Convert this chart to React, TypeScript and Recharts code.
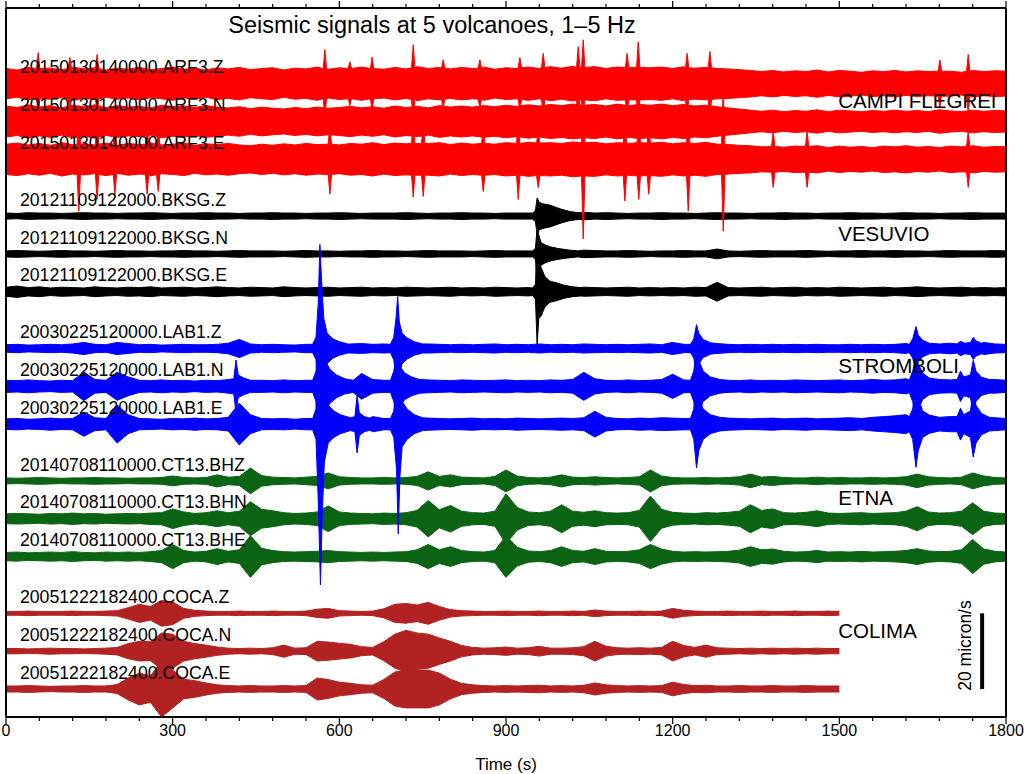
import React from "react";
import { ComposedChart, Area, XAxis, YAxis, Scatter, ReferenceLine } from "recharts";

type Pt = [number, number];

// envelopes are read every 20 s; amplitudes in micron/s (half peak-to-peak)
const TIME_S = Array.from({ length: 91 }, (_, i) => i * 20);
const X_TICKS = [
  0, 60, 120, 180, 240, 300, 360, 420, 480, 540, 600, 660, 720, 780, 840, 900,
  960, 1020, 1080, 1140, 1200, 1260, 1320, 1380, 1440, 1500, 1560, 1620, 1680, 1740, 1800,
];
const Y_TICKS = [0, 10, 20, 30, 40, 50, 60, 70, 80, 90, 100, 110, 120, 130, 140, 150, 160, 170, 180];

// ---- Campi Flegrei ----
const ARF3_Z = [
  4.0, 3.6, 4.3, 3.8, 4.1, 3.7, 4.4, 3.9, 4.2, 3.6,
  4.1, 3.8, 4.3, 3.7, 4.0, 4.4, 3.8, 4.1, 3.6, 4.2,
  3.9, 4.3, 3.7, 4.0, 4.2, 3.6, 4.1, 3.9, 4.4, 3.8,
  4.2, 3.7, 4.4, 4.0, 3.8, 4.3, 3.9, 4.5, 4.0, 4.3,
  3.9, 4.3, 4.0, 4.4, 3.8, 4.2, 4.0, 4.4, 4.0, 4.5,
  4.1, 4.6, 4.2, 4.5, 4.0, 4.4, 4.1, 4.6, 4.2, 4.4,
  4.0, 4.5, 4.1, 4.3, 4.0, 3.9, 3.7, 3.5, 3.2, 3.5,
  3.1, 3.4, 3.2, 3.6, 3.1, 3.5, 3.3, 3.0, 3.4, 3.2,
  3.5, 3.1, 3.4, 3.2, 3.6, 3.3, 3.0, 3.5, 3.2, 3.4, 3.3,
];
const ARF3_N = [
  4.1, 3.7, 4.4, 3.8, 4.2, 3.6, 4.3, 3.9, 4.4, 3.7,
  4.2, 3.8, 4.0, 3.6, 4.3, 3.9, 4.1, 3.7, 4.2, 3.8,
  3.6, 3.9, 3.4, 3.8, 3.5, 3.3, 3.7, 3.4, 3.8, 3.5,
  3.7, 4.0, 3.6, 3.9, 3.5, 4.1, 3.7, 4.0, 3.6, 4.2,
  3.8, 4.1, 3.8, 4.2, 3.9, 4.3, 4.0, 4.4, 4.1, 4.5,
  4.2, 4.6, 4.3, 4.5, 4.1, 4.6, 4.2, 4.5, 4.3, 4.6,
  4.2, 4.5, 4.1, 4.3, 3.9, 3.6, 3.3, 3.0, 2.7, 3.0,
  2.6, 2.9, 2.7, 3.1, 2.6, 3.0, 2.8, 2.6, 2.9, 2.7,
  3.0, 2.7, 2.9, 2.6, 3.1, 2.8, 2.6, 3.0, 2.7, 2.9, 2.8,
];
const ARF3_E = [
  4.0, 4.3, 3.8, 4.2, 3.7, 4.4, 3.9, 4.1, 3.8, 4.3,
  3.7, 4.2, 3.9, 4.4, 3.8, 4.0, 4.3, 3.7, 4.1, 3.9,
  4.2, 3.8, 3.6, 4.0, 3.7, 4.1, 3.8, 4.2, 3.9, 4.3,
  3.8, 4.2, 4.0, 4.4, 3.9, 4.3, 4.1, 4.5, 4.2, 4.4,
  3.9, 4.3, 4.0, 4.4, 4.0, 4.4, 4.1, 4.5, 4.1, 4.4,
  4.2, 4.6, 4.3, 4.5, 4.1, 4.4, 4.2, 4.6, 4.3, 4.5,
  4.1, 4.4, 4.2, 4.5, 4.0, 3.9, 3.7, 3.6, 3.3, 3.6,
  3.2, 3.5, 3.3, 3.6, 3.1, 3.5, 3.2, 3.4, 3.1, 3.5,
  3.3, 3.6, 3.2, 3.4, 3.1, 3.5, 3.3, 3.6, 3.2, 3.4, 3.3,
];
// single spikes: [time s, amplitude]
const ARF3_Z_PEAKS: Pt[][] = [
  [[55, 4], [58, 8.2], [61, 4]],
  [[112, 4], [115, 6.9], [118, 4]],
  [[161, 4], [164, 7.7], [167, 4]],
  [[571, 4], [574, 9], [577, 4]],
  [[616, 4], [619, 5.8], [622, 4]],
  [[656, 4], [659, 7], [662, 4]],
  [[730, 4.2], [733, 10.3], [736, 4.2]],
  [[784, 4.1], [787, 6.3], [790, 4.1]],
  [[850, 4.1], [853, 6.3], [856, 4.1]],
  [[922, 4.2], [925, 6.9], [928, 4.2]],
  [[964, 4.2], [967, 8], [970, 4.2]],
  [[1027, 4.3], [1030, 9.8], [1033, 4.3], [1036, 4.3], [1039, 11.6], [1042, 4.3]],
  [[1115, 4.3], [1118, 8], [1121, 4.3]],
  [[1135, 4.3], [1138, 11], [1141, 4.3]],
  [[1223, 4.2], [1226, 8], [1229, 4.2]],
  [[1264, 4.2], [1267, 8.5], [1270, 4.2]],
  [[1678, 3.3], [1681, 6.3], [1684, 3.3]],
  [[1729, 3.3], [1732, 7.7], [1735, 3.3]],
];
const ARF3_E_PEAKS: Pt[][] = [
  [[128, 4], [131, 13.7], [134, 4]],
  [[161, 4], [164, 10.6], [167, 4]],
  [[193, 4], [196, 9.2], [199, 4]],
  [[251, 4], [254, 9.2], [257, 4]],
  [[271, 4], [274, 8.5], [277, 4]],
  [[580, 4], [583, 9.2], [586, 4]],
  [[730, 4.2], [733, 10], [736, 4.2], [748, 4.2], [751, 9.8], [754, 4.2]],
  [[856, 4.2], [859, 8.5], [862, 4.2]],
  [[919, 4.2], [922, 10.6], [925, 4.2]],
  [[955, 4.3], [958, 7.5], [961, 4.3]],
  [[1036, 4.4], [1039, 21], [1042, 4.4]],
  [[1111, 4.3], [1114, 11], [1117, 4.3]],
  [[1136, 4.4], [1139, 10.6], [1142, 4.4], [1154, 4.3], [1157, 9.2], [1160, 4.3]],
  [[1225, 4.3], [1228, 13.7], [1231, 4.3]],
  [[1288, 4.0], [1291, 19], [1294, 4.0]],
  [[1378, 3.4], [1381, 7.4], [1384, 3.4]],
  [[1439, 3.4], [1442, 7.4], [1445, 3.4]],
  [[1729, 3.4], [1732, 7.4], [1735, 3.4]],
];

// ---- Vesuvio ----
const BKSG_Z = [
  0.8, 0.7, 0.9, 0.8, 0.8, 0.7, 0.8, 0.9, 0.8, 0.8,
  0.7, 0.8, 0.8, 0.9, 0.8, 0.7, 0.8, 0.8, 0.9, 0.8,
  0.8, 0.7, 0.8, 0.8, 0.9, 0.8, 0.8, 0.7, 0.8, 0.8,
  0.9, 0.8, 0.7, 0.8, 0.8, 0.8, 0.9, 0.8, 0.7, 0.8,
  0.8, 0.9, 0.8, 0.8, 0.7, 0.8, 0.8, 0.8, 0.8, 0.8,
  0.8, 0.8, 1.0, 0.8, 0.9, 0.8, 0.7, 0.8, 0.8, 0.9,
  0.8, 0.8, 0.7, 0.8, 0.9, 0.8, 0.8, 0.7, 0.8, 0.8,
  0.9, 0.8, 0.8, 0.7, 0.8, 0.8, 0.9, 0.8, 0.8, 0.7,
  0.8, 0.9, 0.8, 0.8, 0.7, 0.8, 0.8, 0.9, 0.8, 0.8, 0.8,
];
const BKSG_N = [
  0.8, 0.9, 0.8, 0.7, 0.8, 0.9, 0.8, 0.8, 0.7, 0.8,
  0.9, 0.8, 0.8, 0.7, 0.8, 0.8, 0.9, 0.8, 0.8, 0.7,
  0.8, 0.9, 0.8, 0.8, 0.8, 0.7, 0.8, 0.9, 0.8, 0.8,
  0.7, 0.8, 0.8, 0.9, 0.8, 0.8, 0.7, 0.8, 0.9, 0.8,
  0.8, 0.8, 0.7, 0.8, 0.9, 0.8, 0.8, 0.8, 0.8, 0.8,
  0.8, 0.8, 1.0, 0.9, 0.8, 0.8, 0.9, 0.8, 0.7, 0.8,
  0.8, 0.9, 0.8, 0.8, 1.3, 0.8, 0.7, 0.8, 0.9, 0.8,
  0.8, 0.8, 0.9, 0.8, 0.7, 0.8, 0.8, 0.9, 0.8, 0.8,
  0.9, 0.8, 0.8, 0.7, 0.8, 0.9, 0.8, 0.8, 0.8, 0.9, 0.8,
];
const BKSG_E = [
  1.2, 1.5, 1.1, 1.3, 1.0, 1.2, 1.1, 1.0, 1.3, 1.1,
  1.0, 1.2, 1.1, 1.3, 1.0, 1.1, 1.2, 1.0, 1.1, 1.3,
  1.1, 1.0, 1.2, 1.1, 1.0, 1.3, 1.1, 1.0, 1.1, 1.2,
  1.0, 1.1, 1.2, 1.0, 1.1, 1.0, 1.2, 1.1, 1.0, 1.1,
  1.2, 1.0, 1.1, 1.0, 1.2, 1.1, 1.0, 1.1, 1.1, 1.1,
  1.1, 1.1, 1.2, 1.1, 1.0, 1.1, 1.2, 1.0, 1.1, 1.0,
  1.1, 1.0, 1.2, 1.1, 2.5, 1.1, 1.0, 1.1, 1.2, 1.0,
  1.1, 1.2, 1.0, 1.1, 1.0, 1.2, 1.1, 1.0, 1.1, 1.2,
  1.0, 1.1, 1.3, 1.1, 1.0, 1.1, 1.2, 1.0, 1.1, 1.0, 1.1,
];
// local earthquake at ~955 s
const BKSG_Z_PEAKS: Pt[][] = [
  [[948, 0.8], [953, 1.5], [956, 4.8], [960, 3.6], [968, 3.2], [979, 2.9], [990, 2.3], [1000, 1.8], [1015, 1.2], [1030, 0.9]],
];
const BKSG_N_PEAKS: Pt[][] = [
  [[948, 0.8], [953, 1.5], [956, 6.9], [959, 5], [963, 3], [970, 2.4], [979, 1.9], [995, 1.4], [1015, 1.0], [1030, 0.8]],
];
const BKSG_E_PEAKS: Pt[][] = [
  [[948, 1.0], [953, 2], [956, 14], [959, 7], [963, 6.5], [970, 4], [979, 2.8], [990, 2.4], [1005, 1.7], [1020, 1.3], [1035, 1.1]],
];

// ---- Stromboli ----
const LAB1_Z = [
  1.0, 1.1, 0.9, 1.0, 1.1, 1.0, 1.2, 1.6, 1.1, 1.0,
  1.6, 1.3, 1.0, 1.1, 0.9, 1.0, 1.1, 1.0, 1.0, 1.1,
  1.4, 2.4, 1.2, 1.0, 1.1, 1.0, 0.9, 1.1, 1.1, 1.1,
  1.1, 1.2, 1.3, 1.1, 1.2, 1.1, 1.1, 1.1, 1.2, 1.1,
  1.0, 1.1, 1.0, 1.1, 1.2, 1.0, 1.1, 1.0, 1.2, 1.0,
  1.1, 1.0, 1.2, 1.1, 1.0, 1.1, 1.0, 1.1, 1.2, 1.0,
  1.6, 1.1, 1.1, 1.1, 1.3, 1.1, 1.0, 1.1, 1.0, 1.1,
  1.0, 1.1, 1.0, 1.1, 1.0, 1.0, 1.1, 1.0, 1.1, 1.0,
  1.1, 1.3, 1.1, 1.1, 1.2, 1.4, 1.2, 1.2, 1.6, 1.2, 1.1,
];
const LAB1_N = [
  1.6, 1.5, 1.7, 1.5, 1.4, 1.6, 1.5, 3.8, 1.8, 1.6,
  3.7, 2.5, 1.6, 1.5, 1.7, 1.5, 1.6, 1.4, 1.6, 1.5,
  1.8, 1.6, 2.5, 1.6, 1.5, 1.7, 1.5, 1.6, 1.6, 1.6,
  1.6, 1.6, 3.4, 1.8, 1.6, 1.6, 1.6, 1.6, 1.7, 1.6,
  1.5, 1.7, 1.6, 1.5, 1.6, 1.7, 1.5, 1.6, 1.5, 1.7,
  1.6, 1.8, 3.7, 2.0, 1.6, 1.5, 1.7, 1.5, 1.6, 1.8,
  3.2, 1.7, 1.7, 1.7, 1.8, 1.6, 1.5, 1.7, 1.5, 1.6,
  1.5, 1.7, 1.6, 1.5, 1.6, 1.7, 1.5, 1.6, 1.8, 1.6,
  1.7, 2.0, 1.7, 1.7, 1.8, 1.7, 1.8, 1.8, 1.8, 1.8, 1.6,
];
const LAB1_E = [
  1.4, 1.5, 1.3, 1.4, 1.6, 1.4, 1.5, 3.2, 1.7, 1.5,
  5.0, 2.5, 1.5, 1.4, 1.3, 1.5, 1.4, 1.6, 1.4, 1.5,
  1.8, 5.5, 2.5, 1.5, 1.4, 1.5, 1.3, 1.5, 1.5, 1.5,
  1.5, 1.8, 1.5, 2.0, 1.5, 1.5, 1.5, 1.5, 1.6, 1.5,
  1.4, 1.5, 1.6, 1.4, 1.5, 1.4, 1.6, 1.5, 1.4, 1.5,
  1.6, 1.5, 1.7, 3.4, 1.8, 1.5, 1.4, 1.6, 1.5, 1.7,
  1.6, 1.5, 1.5, 1.5, 2.0, 1.6, 1.5, 1.4, 1.5, 1.6,
  1.4, 1.5, 1.6, 1.4, 1.5, 1.6, 1.7, 1.5, 1.8, 2.0,
  2.2, 2.5, 2.0, 2.0, 1.8, 2.0, 2.0, 2.0, 2.0, 1.7, 1.5,
];
// explosion quakes
const LAB1_Z_PEAKS: Pt[][] = [
  [[552, 1.1], [558, 3], [562, 12], [565, 27.5], [568, 18], [572, 8], [578, 4], [588, 2.6], [600, 1.8], [615, 1.2]],
  [[692, 1.1], [698, 3], [702, 8], [705, 13.7], [708, 7], [713, 4], [722, 2.8], [735, 1.8], [750, 1.2]],
  [[1232, 1.1], [1238, 2.5], [1243, 6.3], [1247, 4], [1255, 2.4], [1268, 1.5]],
  [[1626, 1.1], [1632, 2.5], [1638, 5.8], [1642, 3.5], [1650, 2.2], [1662, 1.4]],
  [[1712, 1.2], [1718, 1.9], [1726, 1.4], [1736, 1.6], [1741, 2.9], [1746, 2], [1756, 1.4]],
];
const LAB1_N_PEAKS: Pt[][] = [
  [[410, 2], [414, 7], [418, 3], [428, 2.2], [440, 1.6]],
  [[552, 1.6], [558, 4], [562, 15], [565, 22], [569, 14], [574, 7], [583, 4.5], [595, 3], [610, 2], [625, 1.6]],
  [[692, 1.6], [698, 4], [703, 8], [706, 7], [710, 5], [718, 3.5], [730, 2.5], [745, 1.8]],
  [[1232, 1.6], [1238, 4], [1243, 10], [1247, 7], [1255, 4], [1268, 2.5], [1285, 1.8]],
  [[1626, 1.7], [1632, 4], [1638, 8], [1642, 6], [1650, 3.5], [1662, 2.2]],
  [[1712, 1.8], [1718, 4], [1724, 2.5], [1736, 3], [1741, 6.9], [1746, 4], [1756, 2.4], [1770, 1.8]],
];
const LAB1_E_PEAKS: Pt[][] = [
  [[552, 1.5], [558, 4], [562, 20], [566, 42.5], [569, 25], [573, 10], [580, 5], [590, 3.5], [602, 2.5], [620, 1.7]],
  [[628, 2], [632, 7.6], [636, 3], [645, 2], [655, 1.6]],
  [[692, 1.5], [698, 3.5], [703, 12], [706, 29], [709, 14], [713, 6], [722, 4], [735, 2.5], [750, 1.7]],
  [[1232, 1.5], [1238, 4], [1243, 11.6], [1247, 7], [1255, 4], [1268, 2.5], [1285, 1.8]],
  [[1626, 2], [1632, 4], [1638, 11.4], [1642, 7], [1650, 3.5], [1662, 2.4]],
  [[1712, 2], [1718, 4.2], [1724, 2.5], [1736, 3.5], [1741, 8.7], [1746, 5], [1756, 2.8], [1770, 1.8]],
];

// ---- Etna ----
const CT13_BHZ = [
  0.8, 0.7, 0.8, 0.9, 0.8, 0.7, 0.8, 0.8, 0.9, 0.8,
  0.8, 0.7, 0.8, 0.8, 0.9, 1.3, 0.9, 0.8, 0.9, 1.6,
  1.0, 1.2, 3.4, 1.4, 1.0, 0.9, 0.8, 1.0, 1.2, 2.1,
  1.1, 0.9, 0.8, 0.8, 0.9, 0.8, 0.9, 1.2, 2.4, 1.2,
  1.6, 1.0, 0.9, 0.8, 1.2, 2.9, 1.3, 0.9, 0.8, 1.0,
  1.6, 1.0, 0.9, 1.1, 0.9, 0.8, 0.9, 1.1, 2.9, 1.3,
  0.9, 0.8, 0.8, 0.9, 0.8, 0.9, 1.1, 1.8, 1.0, 1.2,
  0.9, 0.8, 0.8, 1.0, 0.8, 0.9, 0.8, 0.8, 0.9, 0.8,
  0.9, 1.1, 1.8, 1.1, 0.9, 0.8, 1.0, 2.1, 1.3, 0.9, 0.8,
];
const CT13_BHN = [
  1.3, 1.4, 1.3, 1.2, 1.4, 1.3, 1.5, 1.3, 1.4, 1.2,
  1.3, 1.4, 1.3, 1.5, 1.6, 2.6, 1.8, 1.4, 1.6, 2.1,
  1.6, 2.0, 4.5, 2.5, 2.1, 1.6, 1.4, 1.5, 1.8, 3.4,
  1.8, 1.5, 1.4, 1.3, 1.5, 1.4, 1.6, 2.2, 4.8, 2.4,
  3.5, 2.0, 1.6, 1.5, 2.0, 6.6, 3.0, 1.8, 1.6, 2.0,
  3.7, 2.0, 1.7, 2.1, 1.6, 1.5, 1.6, 2.2, 6.0, 2.5,
  1.7, 1.5, 1.4, 1.6, 1.5, 1.7, 2.0, 3.7, 2.2, 2.6,
  1.6, 1.5, 1.7, 2.1, 1.5, 1.4, 1.5, 1.6, 1.4, 1.5,
  1.6, 2.0, 3.2, 1.8, 1.5, 1.6, 2.0, 4.2, 2.0, 1.5, 1.4,
];
const CT13_BHE = [
  1.1, 1.2, 1.0, 1.1, 1.2, 1.1, 1.3, 1.1, 1.0, 1.2,
  1.1, 1.2, 1.1, 1.3, 1.6, 3.2, 1.6, 1.2, 1.4, 2.1,
  1.4, 1.8, 5.5, 2.2, 1.6, 1.3, 1.2, 1.3, 1.4, 1.6,
  1.3, 1.2, 1.1, 1.2, 1.1, 1.2, 1.3, 1.8, 3.2, 1.8,
  2.6, 1.6, 1.3, 1.2, 1.6, 5.5, 2.5, 1.5, 1.3, 1.6,
  2.6, 1.6, 1.4, 2.1, 1.4, 1.3, 1.4, 1.8, 3.2, 2.0,
  1.4, 1.2, 1.3, 1.2, 1.3, 1.4, 1.7, 2.6, 1.8, 2.0,
  1.4, 1.2, 1.3, 1.6, 1.2, 1.3, 1.2, 1.4, 1.2, 1.3,
  1.4, 1.6, 2.1, 1.5, 1.3, 1.4, 1.8, 4.5, 2.0, 1.4, 1.2,
];

// ---- Colima (record ends at 1500 s) ----
const COCA_Z = [
  0.5, 0.5, 0.6, 0.5, 0.5, 0.5, 0.6, 0.5, 0.5, 0.6,
  0.7, 1.5, 2.4, 1.8, 3.4, 3.0, 1.3, 0.8, 0.6, 0.5,
  0.5, 0.6, 0.5, 0.5, 0.6, 0.5, 0.5, 0.6, 1.1, 1.3,
  0.7, 0.6, 0.5, 0.6, 1.2, 2.4, 2.6, 2.2, 2.9, 1.8,
  1.0, 0.7, 0.6, 0.5, 0.5, 0.6, 0.5, 0.5, 0.6, 0.5,
  0.5, 0.6, 0.5, 0.9, 0.6, 0.5, 0.5, 0.6, 0.5, 0.6,
  1.3, 0.8, 0.6, 0.5, 0.5, 0.6, 0.5, 0.5, 0.6, 0.5,
  0.5, 0.6, 0.5, 0.5, 0.6, 0.5,
];
const COCA_N = [
  0.7, 0.7, 0.6, 0.7, 0.8, 0.7, 0.7, 0.6, 0.7, 0.8,
  1.0, 2.0, 2.6, 2.5, 4.8, 4.5, 2.6, 2.0, 1.6, 1.1,
  0.8, 0.7, 0.8, 0.7, 0.9, 1.6, 0.8, 0.9, 2.6, 2.4,
  2.1, 1.8, 1.2, 1.0, 2.5, 4.5, 5.5, 4.8, 4.5, 3.5,
  2.6, 1.5, 1.0, 0.8, 0.9, 1.1, 0.8, 0.9, 1.3, 0.8,
  0.8, 0.9, 1.2, 2.6, 1.3, 0.9, 0.8, 0.9, 0.8, 1.0,
  2.6, 1.5, 1.0, 1.6, 0.9, 0.8, 0.7, 0.8, 0.7, 0.8,
  0.7, 0.8, 0.7, 0.8, 0.7, 0.7,
];
const COCA_E = [
  0.8, 0.8, 0.9, 0.8, 0.7, 0.8, 0.8, 0.9, 0.8, 0.8,
  1.2, 2.9, 4.2, 3.5, 7.4, 5.0, 2.6, 2.2, 1.6, 1.1,
  0.9, 0.8, 0.9, 0.8, 0.8, 0.9, 0.8, 0.9, 2.9, 2.5,
  1.8, 1.5, 1.1, 1.0, 2.5, 4.5, 5.0, 5.0, 5.0, 4.2,
  2.6, 1.5, 1.1, 0.9, 0.8, 0.9, 0.8, 0.9, 1.0, 0.8,
  0.9, 0.8, 1.0, 1.6, 1.1, 0.9, 0.8, 0.9, 0.8, 0.9,
  1.8, 1.2, 0.9, 1.0, 0.8, 0.8, 0.9, 0.8, 0.8, 0.9,
  0.8, 0.8, 0.9, 0.8, 0.8, 0.8,
];

const VOLCANOES = ["CAMPI FLEGREI", "VESUVIO", "STROMBOLI", "ETNA", "COLIMA"];
const SCALE_BAR = 20; // micron/s

const RED = "#ff0000";
const BLACK = "#000000";
const BLUE = "#0000ff";
const GREEN = "#0a6414";
const BROWN = "#b22222";

// drawing order: later ones on top
const TRACES = [
  { key: "bz", name: "20121109122000.BKSG.Z", amp: BKSG_Z, peaks: BKSG_Z_PEAKS, base: 125, color: BLACK },
  { key: "bn", name: "20121109122000.BKSG.N", amp: BKSG_N, peaks: BKSG_N_PEAKS, base: 115, color: BLACK },
  { key: "be", name: "20121109122000.BKSG.E", amp: BKSG_E, peaks: BKSG_E_PEAKS, base: 105, color: BLACK },
  { key: "gz", name: "20140708110000.CT13.BHZ", amp: CT13_BHZ, peaks: [], base: 55, color: GREEN },
  { key: "gn", name: "20140708110000.CT13.BHN", amp: CT13_BHN, peaks: [], base: 45, color: GREEN },
  { key: "ge", name: "20140708110000.CT13.BHE", amp: CT13_BHE, peaks: [], base: 35, color: GREEN },
  { key: "cz", name: "20051222182400.COCA.Z", amp: COCA_Z, peaks: [], base: 20, color: BROWN },
  { key: "cn", name: "20051222182400.COCA.N", amp: COCA_N, peaks: [], base: 10, color: BROWN },
  { key: "ce", name: "20051222182400.COCA.E", amp: COCA_E, peaks: [], base: 0, color: BROWN },
  { key: "rz", name: "20150130140000.ARF3.Z", amp: ARF3_Z, peaks: ARF3_Z_PEAKS, base: 160, color: RED },
  { key: "rn", name: "20150130140000.ARF3.N", amp: ARF3_N, peaks: [], base: 150, color: RED },
  { key: "re", name: "20150130140000.ARF3.E", amp: ARF3_E, peaks: ARF3_E_PEAKS, base: 140, color: RED },
  { key: "sz", name: "20030225120000.LAB1.Z", amp: LAB1_Z, peaks: LAB1_Z_PEAKS, base: 90, color: BLUE },
  { key: "sn", name: "20030225120000.LAB1.N", amp: LAB1_N, peaks: LAB1_N_PEAKS, base: 80, color: BLUE },
  { key: "se", name: "20030225120000.LAB1.E", amp: LAB1_E, peaks: LAB1_E_PEAKS, base: 70, color: BLUE },
];
const Z_BASES = [160, 125, 90, 55, 20];

// envelope samples of a trace: the 20 s readings, with the finer readings of its events in place
const tracePoints = (amp: number[], peaks: Pt[][]): Pt[] => {
  const pts: Pt[] = [];
  amp.forEach((a, i) => {
    const t = TIME_S[i];
    const covered = peaks.some((seg) => t >= seg[0][0] && t <= seg[seg.length - 1][0]);
    if (!covered) pts.push([t, a]);
  });
  peaks.forEach((seg) => seg.forEach((p) => pts.push(p)));
  return pts;
};

const byTime = new Map<number, Record<string, any>>();
TRACES.forEach((tr) => {
  tracePoints(tr.amp, tr.peaks).forEach(([t, a]) => {
    if (!byTime.has(t)) byTime.set(t, { t });
    byTime.get(t)![tr.key] = [tr.base - a, tr.base + a];
  });
});
const rows = Array.from(byTime.values()).sort((a, b) => a.t - b.t);

const traceLabels = TRACES.map((tr) => ({ t: 25, y: tr.base + 4.3, text: tr.name }));
const nameLabels = VOLCANOES.map((v, k) => ({ t: 1498, y: Z_BASES[k] - 4.5, text: v }));
const scaleLabel = [{ t: 1726, y: SCALE_BAR / 2 + 1.5, text: `${SCALE_BAR} micron/s` }];

const FONT = "'Liberation Sans', Arial, Helvetica, sans-serif";

const BottomTick = (props: any) => {
  const { x, y, payload } = props;
  const major = payload.value % 300 === 0;
  return (
    <g>
      <line x1={x} x2={x} y1={y} y2={y + (major ? 7 : 4)} stroke="#000" strokeWidth={1.2} />
      {major && (
        <text x={x} y={y + 19} textAnchor="middle" fontSize={16} fill="#000" fontFamily={FONT}>
          {payload.value}
        </text>
      )}
    </g>
  );
};

const TopTick = (props: any) => {
  const { x, y, payload } = props;
  const major = payload.value % 300 === 0;
  return <line x1={x} x2={x} y1={y} y2={y - (major ? 7 : 4)} stroke="#000" strokeWidth={1.2} />;
};

const textShape = (size: number, rotate = false) => (p: any) => (
  <text
    x={p.cx}
    y={p.cy}
    fontSize={size}
    fill="#000"
    fontFamily={FONT}
    dominantBaseline="central"
    textAnchor={rotate ? "middle" : "start"}
    transform={rotate ? `rotate(-90 ${p.cx} ${p.cy})` : undefined}
  >
    {p.payload.text}
  </text>
);

const frame = { stroke: "#000", strokeWidth: 2 };

export default function App() {
  return (
    <div style={{ position: "absolute", left: 0, top: 0, width: 1024, height: 774, background: "#fff", fontFamily: FONT }}>
      <div
        style={{
          position: "absolute",
          left: 0,
          top: 11,
          width: 864,
          textAlign: "center",
          fontSize: 23.5,
          lineHeight: "28px",
          color: "#000",
          zIndex: 2,
        }}
      >
        Seismic signals at 5 volcanoes, 1–5 Hz
      </div>
      <ComposedChart width={1024} height={774} data={rows} margin={{ top: 0, right: 0, bottom: 0, left: 0 }}>
        <XAxis
          dataKey="t"
          type="number"
          domain={[0, 1800]}
          ticks={X_TICKS}
          interval={0}
          height={57}
          tickSize={0}
          tickMargin={0}
          tickLine={false}
          axisLine={frame}
          tick={(p: any) => <BottomTick {...p} />}
          allowDataOverflow
          label={{ value: "Time (s)", position: "insideBottom", offset: 4, fontSize: 17, fill: "#000" }}
        />
        <XAxis
          xAxisId="top"
          orientation="top"
          dataKey="t"
          type="number"
          domain={[0, 1800]}
          ticks={X_TICKS}
          interval={0}
          height={8}
          tickSize={0}
          tickMargin={0}
          tickLine={false}
          axisLine={frame}
          tick={(p: any) => <TopTick {...p} />}
          allowDataOverflow
        />
        <YAxis
          type="number"
          domain={[-7.4, 180]}
          ticks={Y_TICKS}
          interval={0}
          width={6}
          tick={false}
          tickSize={5}
          tickLine={{ stroke: "#000", strokeWidth: 1.2 }}
          axisLine={frame}
          allowDataOverflow
        />
        <YAxis
          yAxisId="r"
          orientation="right"
          type="number"
          domain={[-7.4, 180]}
          ticks={Y_TICKS}
          interval={0}
          width={18}
          tick={false}
          tickSize={5}
          tickLine={{ stroke: "#000", strokeWidth: 1.2 }}
          axisLine={frame}
          allowDataOverflow
        />
        {TRACES.map((tr) => (
          <Area
            key={tr.key}
            dataKey={tr.key}
            type="linear"
            stroke={tr.color}
            strokeWidth={1}
            fill={tr.color}
            fillOpacity={1}
            dot={false}
            activeDot={false}
            connectNulls
            isAnimationActive={false}
          />
        ))}
        <ReferenceLine
          segment={[
            { x: 1757, y: 0 },
            { x: 1757, y: SCALE_BAR },
          ]}
          stroke="#000"
          strokeWidth={4}
        />
        <Scatter data={traceLabels} dataKey="y" shape={textShape(17.7)} isAnimationActive={false} />
        <Scatter data={nameLabels} dataKey="y" shape={textShape(20.5)} isAnimationActive={false} />
        <Scatter data={scaleLabel} dataKey="y" shape={textShape(17.5, true)} isAnimationActive={false} />
      </ComposedChart>
    </div>
  );
}
